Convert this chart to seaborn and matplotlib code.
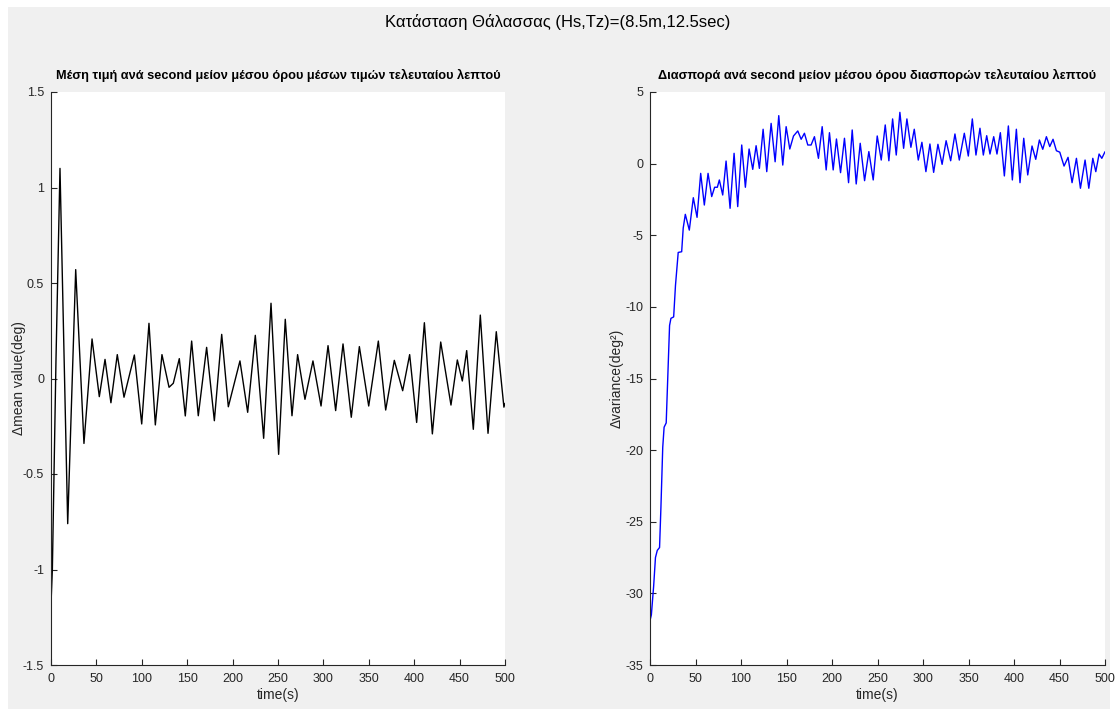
import matplotlib
matplotlib.use("Agg")
import matplotlib.pyplot as plt
from matplotlib.patches import Rectangle
import seaborn as sns
import pandas as pd

# ---------------- data ----------------
mean_t = [0, 1.5, 5.5, 9.9, 18.4, 27.2, 36.3, 45.2, 53.2, 59.5, 66.0, 73.0, 80.4, 91.8,
          99.9, 107.9, 114.9, 122.2, 130.0, 134.7, 141.3, 147.9, 154.9, 162.2,
          171.4, 179.9, 188.0, 195.3, 208.1, 216.6, 225.0, 234.2, 242.3, 250.7,
          258.0, 265.4, 271.6, 279.7, 288.5, 297.4, 305.1, 313.5, 321.6, 330.7,
          339.6, 349.9, 360.5, 368.6, 378.1, 387.3, 395.0, 402.7, 411.2, 420.0,
          429.2, 440.5, 447.5, 453.0, 457.8, 465.1, 472.8, 481.3, 490.4, 498.8, 500]
mean_v = [-1.18, -1.0, 0.1, 1.10, -0.76, 0.57, -0.34, 0.207, -0.095, 0.10, -0.127, 0.125,
          -0.098, 0.123, -0.238, 0.289, -0.243, 0.125, -0.046, -0.025, 0.104,
          -0.196, 0.196, -0.195, 0.163, -0.221, 0.231, -0.148, 0.092, -0.177,
          0.226, -0.313, 0.394, -0.397, 0.31, -0.195, 0.125, -0.109, 0.092,
          -0.144, 0.172, -0.168, 0.181, -0.203, 0.167, -0.144, 0.196, -0.165,
          0.095, -0.064, 0.125, -0.23, 0.292, -0.29, 0.191, -0.139, 0.097,
          -0.013, 0.146, -0.266, 0.332, -0.287, 0.245, -0.15, -0.13]

var_t = [0, 1.5, 4, 6, 8, 10.5, 12, 14, 15.5, 17.8, 19.4, 21.5, 23, 26, 28, 31,
         34.8, 36.5, 38.8, 43.2, 47.6, 51.7, 55.7, 59.7, 63.8, 67.8, 71, 74,
         76.2, 79.9, 83.6, 88.0, 92.4, 96.4, 100.8, 104.8, 108.9, 112.9, 116.6,
         120.2, 124.3, 128.3, 133.1, 137.5, 141.5, 145.9, 149.6, 153.6, 157.7,
         162.4, 166.1, 169.7, 173.4, 177.0, 180.7, 185.1, 189.2, 193.6, 197.2,
         201.3, 204.9, 209.4, 213.7, 218.2, 222.2, 226.6, 231.0, 235.8, 240.5,
         245.3, 249.7, 254.1, 258.5, 262.5, 266.6, 270.6, 274.6, 278.7, 282.3,
         286.7, 290.4, 294.8, 298.8, 303.2, 307.6, 311.7, 316.4, 321.0, 325.4,
         330.4, 335.1, 339.9, 345.4, 349.8, 354.2, 358.2, 362.6, 366.3, 370.0,
         373.6, 377.7, 381.3, 385.0, 389.4, 393.8, 398.2, 402.6, 406.6, 410.7,
         415.1, 419.8, 423.9, 427.9, 431.6, 435.6, 439.3, 442.9, 446.6, 450.3,
         455.0, 459.4, 463.8, 468.6, 473.0, 478.1, 482.2, 486.6, 489.9, 493.5,
         496.5, 500]
var_v = [-31.9, -31.5, -29.5, -27.5, -27.0, -26.8, -24.0, -19.8, -18.4, -18.1,
         -15.1, -11.3, -10.8, -10.7, -8.5, -6.2, -6.15, -4.5, -3.54, -4.64,
         -2.38, -3.75, -0.68, -2.89, -0.68, -2.3, -1.65, -1.65, -1.14, -2.19,
         0.18, -3.12, 0.72, -3.0, 1.3, -1.65, 1.02, -0.4, 1.25, -0.33, 2.4,
         -0.56, 2.81, 0.13, 3.35, -0.1, 2.58, 1.02, 1.93, 2.28, 1.70, 2.12,
         1.30, 1.30, 1.88, 0.37, 2.58, -0.44, 2.16, -0.44, 1.72, -0.63, 1.77,
         -1.33, 2.35, -1.42, 1.42, -1.19, 0.84, -1.14, 1.93, 0.25, 2.7, 0.2,
         3.12, 0.6, 3.58, 1.07, 3.12, 1.14, 2.4, 0.25, 1.49, -0.56, 1.37,
         -0.61, 1.35, -0.05, 1.6, 0.2, 2.07, 0.25, 2.12, 0.53, 3.12, 0.6,
         2.47, 0.6, 1.95, 0.67, 1.88, 0.67, 2.16, -0.86, 2.63, -1.14, 2.4,
         -1.33, 1.77, -0.79, 1.23, 0.30, 1.65, 1.0, 1.88, 1.19, 1.70, 0.9,
         0.8, -0.17, 0.44, -1.33, 0.37, -1.72, 0.25, -1.72, 0.37, -0.56,
         0.67, 0.37, 0.83]

suptitle = "Κατάσταση Θάλασσας (Hs,Tz)=(8.5m,12.5sec)"
left_title = "Μέση τιμή ανά second μείον μέσου όρου μέσων τιμών τελευταίου λεπτού"
right_title = "Διασπορά ανά second μείον μέσου όρου διασπορών τελευταίου λεπτού"
x_ticks = [0, 50, 100, 150, 200, 250, 300, 350, 400, 450, 500]
left_yticks = [-1.5, -1, -0.5, 0, 0.5, 1, 1.5]
left_ylabels = ["-1.5", "-1", "-0.5", "0", "0.5", "1", "1.5"]
right_yticks = [-35, -30, -25, -20, -15, -10, -5, 0, 5]

# ---------------- style ----------------
sns.set_theme(style="white")
plt.rcParams["font.family"] = ["Liberation Sans", "DejaVu Sans"]
FG = "#262626"
BG = "#f0f0f0"

W, H = 1115, 709
fig = plt.figure(figsize=(W / 100, H / 100), dpi=100, facecolor="white")
fig.patches.append(Rectangle((8 / W, 0), (1110 - 8) / W, (H - 7) / H,
                             transform=fig.transFigure, facecolor=BG,
                             edgecolor="none", zorder=-10))

ax1 = fig.add_axes([51 / W, (H - 665) / H, 454 / W, 573 / H])
ax2 = fig.add_axes([650 / W, (H - 665) / H, 455 / W, 573 / H])

df1 = pd.DataFrame({"t": mean_t, "v": mean_v})
df2 = pd.DataFrame({"t": var_t, "v": var_v})
sns.lineplot(data=df1, x="t", y="v", ax=ax1, color="black", linewidth=1.0,
             estimator=None, sort=False)
sns.lineplot(data=df2, x="t", y="v", ax=ax2, color="#0000ff", linewidth=1.0,
             estimator=None, sort=False)

for ax in (ax1, ax2):
    ax.set_facecolor("white")
    ax.set_xlim(0, 500)
    ax.set_xticks(x_ticks)
    ax.set_xticklabels([str(v) for v in x_ticks])
    for s in ("top", "right"):
        ax.spines[s].set_visible(False)
    for s in ("left", "bottom"):
        ax.spines[s].set_color(FG)
        ax.spines[s].set_linewidth(0.8)
    ax.tick_params(direction="in", length=4, width=0.8, colors=FG,
                   labelsize=9, left=True, bottom=True)
    ax.tick_params(axis="x", pad=6)
    ax.tick_params(axis="y", pad=5)
    ax.set_xlabel("time(s)", fontsize=10, color=FG, labelpad=2)

ax1.set_ylim(-1.5, 1.5)
ax1.set_yticks(left_yticks)
ax1.set_yticklabels(left_ylabels)
ax1.set_ylabel("Δmean value(deg)", fontsize=10, color=FG, labelpad=-2)
ax1.set_title(left_title, fontsize=9.2, fontweight="bold", color="black", pad=9)

ax2.set_ylim(-35, 5)
ax2.set_yticks(right_yticks)
ax2.set_yticklabels([str(v) for v in right_yticks])
ax2.set_ylabel("Δvariance(deg²)", fontsize=10, color=FG, labelpad=1)
ax2.set_title(right_title, fontsize=9.2, fontweight="bold", color="black", pad=9)

fig.text(0.5, 1 - 22 / H, suptitle, ha="center", va="center", fontsize=12,
         color="black")

fig.savefig("out.png", dpi=100, facecolor=fig.get_facecolor())
